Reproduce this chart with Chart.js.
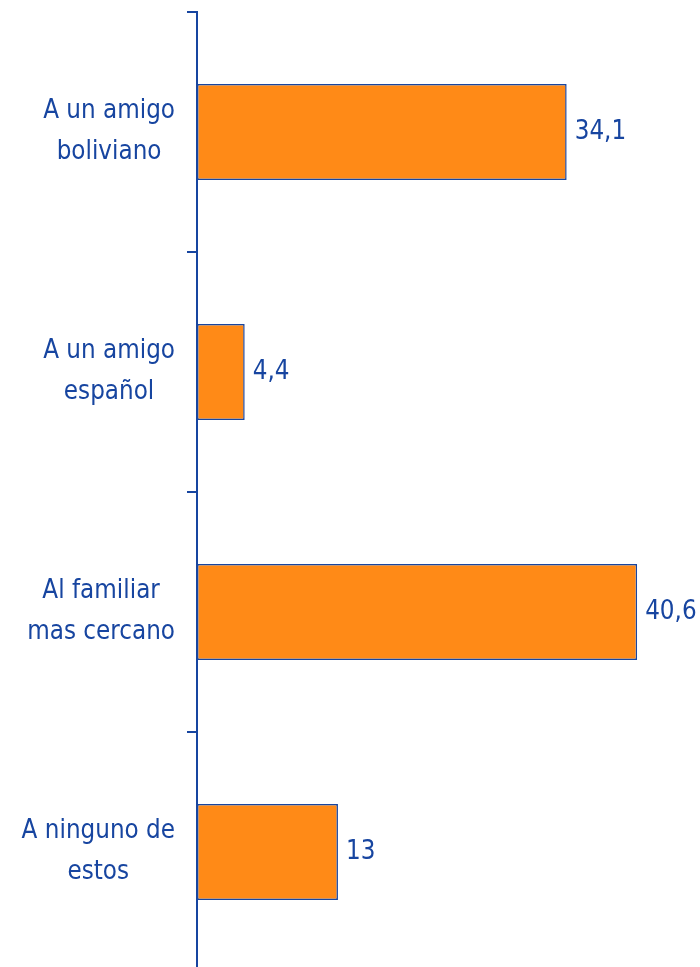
<!DOCTYPE html>
<html>
<head>
<meta charset="utf-8">
<script src="https://cdn.jsdelivr.net/npm/chart.js@4"></script>
<style>
  html, body { margin: 0; padding: 0; background: #fff; overflow: hidden; }
  canvas { display: block; }
</style>
</head>
<body>
<canvas id="grafico" width="700" height="980"></canvas>
<script>
// categorias (cada una en dos lineas) y porcentajes
const categorias = [
  ["A un amigo", "boliviano"],
  ["A un amigo", "español"],
  ["Al familiar", "mas cercano"],
  ["A ninguno de", "estos"],
];
const valores = [34.1, 4.4, 40.6, 13];

const AZUL = "#1745a0";
const NARANJA = "#ff8a17";
const FUENTE = "26px 'DejaVu Sans'";
const ESTRECHO = 0.89; // texto un poco mas estrecho

function textoEstrecho(ctx, txt, x, y, align) {
  const w = ctx.measureText(txt).width * ESTRECHO;
  let x0 = x;
  if (align === "center") x0 = x - w / 2;
  else if (align === "right") x0 = x - w;
  ctx.save();
  ctx.translate(x0, y);
  ctx.scale(ESTRECHO, 1);
  ctx.textAlign = "left";
  ctx.fillText(txt, 0, 0);
  ctx.restore();
}

// etiquetas del eje y valores al final de cada barra
const etiquetas = {
  id: "etiquetas",
  afterDraw(chart) {
    const ctx = chart.ctx;
    const y = chart.scales.y;
    const meta = chart.getDatasetMeta(0);
    ctx.save();
    ctx.font = FUENTE;
    ctx.fillStyle = AZUL;
    ctx.textBaseline = "alphabetic";
    categorias.forEach((lineas, i) => {
      const cy = y.getPixelForTick(i);
      const ancho = Math.max(...lineas.map(l => ctx.measureText(l).width)) * ESTRECHO;
      const centro = 175 - ancho / 2;
      textoEstrecho(ctx, lineas[0], centro, cy - 14, "center");
      textoEstrecho(ctx, lineas[1], centro, cy + 27, "center");
    });
    meta.data.forEach((bar, i) => {
      const txt = String(valores[i]).replace(".", ",");
      textoEstrecho(ctx, txt, bar.x + 8, bar.y + 7, "left");
    });
    ctx.restore();
  }
};

new Chart(document.getElementById("grafico"), {
  type: "bar",
  data: {
    labels: categorias,
    datasets: [{
      data: valores,
      backgroundColor: NARANJA,
      borderColor: AZUL,
      borderWidth: 1.5,
      borderSkipped: false,
      barPercentage: 0.4,
      categoryPercentage: 1,
    }],
  },
  options: {
    indexAxis: "y",
    responsive: false,
    animation: false,
    layout: { padding: { top: 12, bottom: 8, left: 0, right: 0 } },
    plugins: {
      legend: { display: false },
      tooltip: { enabled: false },
    },
    scales: {
      x: {
        display: false,
        min: 0,
        max: 46.4,
      },
      y: {
        offset: true,
        grid: {
          offset: true,
          drawOnChartArea: false,
          drawTicks: true,
          tickLength: 10,
          color: AZUL,
          lineWidth: 2,
        },
        border: { display: true, color: AZUL, width: 2 },
        ticks: { display: false },
        afterFit(scale) { scale.width = 197; },
      },
    },
  },
  plugins: [etiquetas],
});
</script>
</body>
</html>
